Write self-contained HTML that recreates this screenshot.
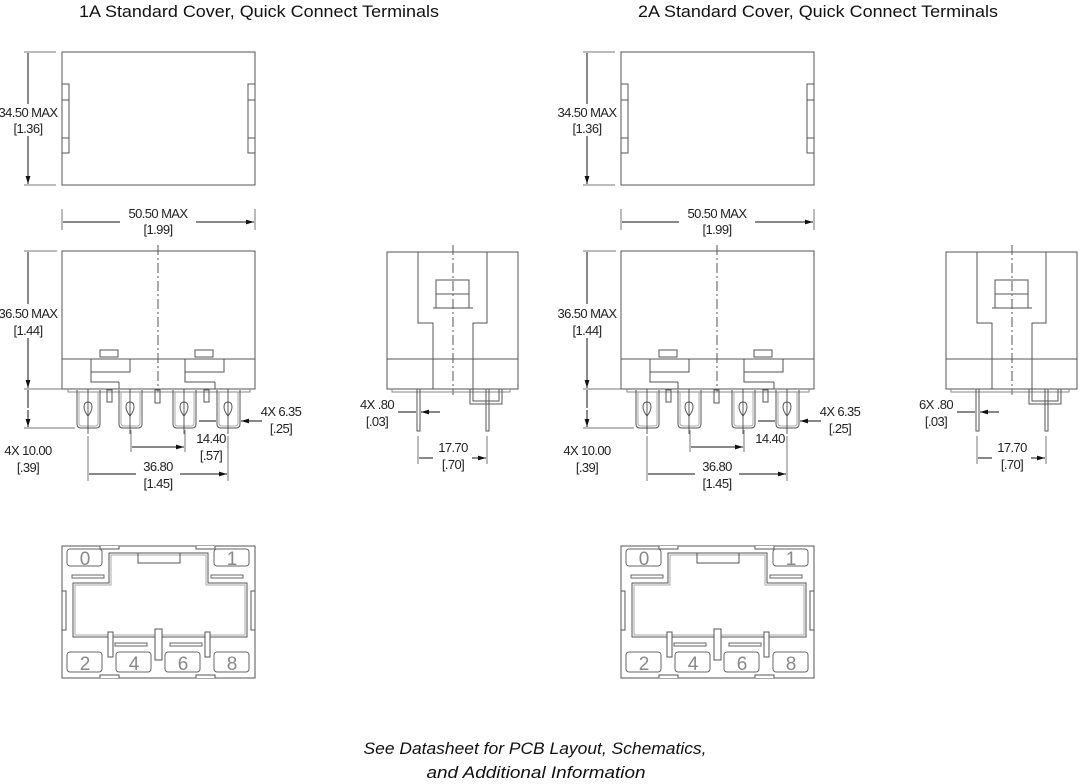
<!DOCTYPE html>
<html><head><meta charset="utf-8"><style>
html,body{margin:0;padding:0;background:#fff;}
svg{display:block;}
.t{font-family:"Liberation Sans",Arial,sans-serif;font-size:13px;fill:#222;text-anchor:middle;letter-spacing:-0.6px}
.h{font-family:"Liberation Sans",Arial,sans-serif;font-size:17px;fill:#111;text-anchor:middle}
.f{font-family:"Liberation Sans",Arial,sans-serif;font-size:17px;font-style:italic;fill:#111;text-anchor:middle}
.n{font-family:"Liberation Sans",Arial,sans-serif;font-size:19px;fill:#888;text-anchor:middle}
</style></head><body>
<svg width="1080" height="784" viewBox="0 0 1080 784" xmlns="http://www.w3.org/2000/svg">
<defs>
<marker id="a" viewBox="0 0 10 6" refX="10" refY="3" markerWidth="8" markerHeight="5" orient="auto-start-reverse" markerUnits="userSpaceOnUse"><path d="M0,0L10,3L0,6z" fill="#111"/></marker>
<g id="G" fill="none" stroke="#555" stroke-width="1">
 <rect x="62" y="52" width="193" height="133"/>
 <rect x="62" y="84" width="7" height="69"/><path d="M62,100H69M62,138H69"/>
 <rect x="248" y="84" width="7" height="69"/><path d="M248,100H255M248,138H255"/>
 <path d="M24,52H56M24,185H56" stroke="#777"/>
 <path d="M28,104V53M28,136V184" stroke="#111" marker-end="url(#a)"/>
 <path d="M62,209V230M255,209V230" stroke="#777"/>
 <path d="M120,222H63M196,222H254" stroke="#111" marker-end="url(#a)"/>
 <rect x="62" y="251" width="193" height="138"/>
 <path d="M62,359H255"/>
 <path d="M91,359V372H130V359M119,382V389M91,372V382H119"/>
 <path d="M185,359V372H224V359M215,382V389M185,372V382H215" />
 <rect x="100" y="350" width="18" height="7"/><rect x="195" y="350" width="18" height="7"/>
 <path d="M158,245V392" stroke-dasharray="10,3,2,3"/>
 <path d="M68,389V392H250V389" stroke="#888"/>
 <g id="T"><path d="M77,390V424Q77,428 81,428H96Q100,428 100,424V390"/><path d="M79,392V423Q79,426 82,426H95Q98,426 98,423V392" stroke="#aaa"/><path d="M84,407Q84,402 88,402Q92,402 92,407Q92,411 88,416Q84,411 84,407z"/><path d="M88,389V434" stroke="#333" stroke-width=".8"/></g>
 <use href="#T" x="42"/><use href="#T" x="96"/><use href="#T" x="140"/>
 <rect x="107" y="390" width="5" height="12"/><rect x="155" y="390" width="5" height="13"/><rect x="204" y="390" width="5" height="12"/>
 <path d="M24,251H57M24,389H62M24,428H75" stroke="#777"/>
 <path d="M28,304V252M28,338V388" stroke="#111" marker-end="url(#a)"/>
 <path d="M28,408V390M28,410V427" stroke="#111" marker-end="url(#a)"/>
 <path d="M88,436V481M228,436V481M131,430V452M185,430V452" stroke="#777"/>
 <path d="M158,447H132M158,447H184" stroke="#111" marker-end="url(#a)"/>
 <path d="M136,474H89M180,474H227" stroke="#111" marker-end="url(#a)"/>
 <path d="M199,421H216M262,421H241" stroke="#111" marker-end="url(#a)"/>
 <rect x="387" y="252" width="131" height="137"/>
 <path d="M387,359H518"/>
 <path d="M418,252V323H433V389M487,252V323H473V389M433,308H473"/>
 <rect x="436" y="280" width="33" height="28"/><path d="M436,294H469"/>
 <path d="M453,245V395" stroke-dasharray="10,3,2,3"/>
 <path d="M392,389V392H510V389" stroke="#888"/>
 <rect x="417" y="389" width="3" height="42"/><rect x="486" y="389" width="3" height="42"/>
 <path d="M470,389V404H502V389M473,389V401H499V389"/>
 <path d="M418,436V464M487,436V464" stroke="#777"/>
 <path d="M398,412H416M440,412H421" stroke="#111" marker-end="url(#a)"/>
 <path d="M433,458H419M472,458H486" stroke="#111" marker-end="url(#a)"/>
 <rect x="62" y="546" width="193" height="132"/>
 <path d="M100,546V549H119V546M196,546V549H215V546M100,678V675H119V678M196,678V675H215V678" fill="#fff"/>
 <rect x="62" y="591" width="4" height="39"/><rect x="251" y="591" width="4" height="39"/>
 <path d="M109,583V553H208V583H247V637H73V583Z"/>
 <path d="M111,585V555H206V585H245V635H75V585Z" stroke="#aaa"/>
 <rect x="138" y="553" width="42" height="10"/>
 <g stroke="#666"><rect x="72" y="575" width="32" height="3"/><rect x="211" y="575" width="32" height="3"/><rect x="115" y="643" width="32" height="3"/><rect x="170" y="643" width="32" height="3"/></g>
 <rect x="108" y="632" width="5" height="25" fill="#fff"/><rect x="155" y="629" width="7" height="31" fill="#fff"/><rect x="205" y="632" width="5" height="25" fill="#fff"/>
 <g stroke="#666"><rect x="67" y="549" width="35" height="17" rx="3"/><rect x="214" y="549" width="35" height="17" rx="3"/><rect x="67" y="652" width="35" height="20" rx="3"/><rect x="116" y="652" width="35" height="20" rx="3"/><rect x="165" y="652" width="35" height="20" rx="3"/><rect x="214" y="652" width="35" height="20" rx="3"/></g>
</g>
</defs>
<use href="#G"/>
<use href="#G" x="559"/>

<text class="h" x="259" y="17" textLength="360" lengthAdjust="spacingAndGlyphs">1A Standard Cover, Quick Connect Terminals</text>
<text class="h" x="818" y="17" textLength="360" lengthAdjust="spacingAndGlyphs">2A Standard Cover, Quick Connect Terminals</text>

<g class="t">
<text x="28" y="117">34.50 MAX</text><text x="28" y="133">[1.36]</text>
<text x="158" y="218">50.50 MAX</text><text x="158" y="234">[1.99]</text>
<text x="28" y="318">36.50 MAX</text><text x="28" y="335">[1.44]</text>
<text x="28" y="455">4X 10.00</text><text x="28" y="472">[.39]</text>
<text x="211" y="443">14.40</text><text x="211" y="460">[.57]</text>
<text x="158" y="471">36.80</text><text x="158" y="488">[1.45]</text>
<text x="281" y="416">4X 6.35</text><text x="281" y="433">[.25]</text>
<text x="377" y="409">4X .80</text><text x="377" y="426">[.03]</text>
<text x="453" y="452">17.70</text><text x="453" y="469">[.70]</text>

<text x="587" y="117">34.50 MAX</text><text x="587" y="133">[1.36]</text>
<text x="717" y="218">50.50 MAX</text><text x="717" y="234">[1.99]</text>
<text x="587" y="318">36.50 MAX</text><text x="587" y="335">[1.44]</text>
<text x="587" y="455">4X 10.00</text><text x="587" y="472">[.39]</text>
<text x="770" y="443">14.40</text>
<text x="717" y="471">36.80</text><text x="717" y="488">[1.45]</text>
<text x="840" y="416">4X 6.35</text><text x="840" y="433">[.25]</text>
<text x="936" y="409">6X .80</text><text x="936" y="426">[.03]</text>
<text x="1012" y="452">17.70</text><text x="1012" y="469">[.70]</text>
</g>

<g class="n">
<text x="85" y="565">0</text><text x="232" y="565">1</text><text x="85" y="670">2</text><text x="134" y="670">4</text><text x="183" y="670">6</text><text x="232" y="670">8</text>
<text x="644" y="565">0</text><text x="791" y="565">1</text><text x="644" y="670">2</text><text x="693" y="670">4</text><text x="742" y="670">6</text><text x="791" y="670">8</text>
</g>

<text class="f" x="535" y="754" textLength="343" lengthAdjust="spacingAndGlyphs">See Datasheet for PCB Layout, Schematics,</text>
<text class="f" x="536" y="778" textLength="219" lengthAdjust="spacingAndGlyphs">and Additional Information</text>
</svg>
</body></html>
